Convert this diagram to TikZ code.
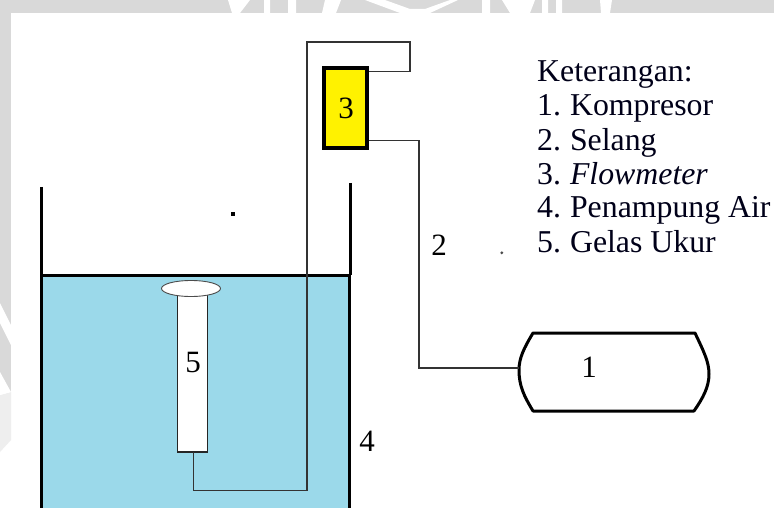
\documentclass[tikz,border=0pt]{standalone}
\usetikzlibrary{shapes.geometric}
\usepackage{fontspec}
\setmainfont{Liberation Serif}
\definecolor{wmgrey}{HTML}{D9D9D9}
\definecolor{water}{HTML}{9BD9EA}
\definecolor{meter}{HTML}{FFF200}
\tikzset{
  thick line/.style={line width=3pt,draw=black},
  pipe/.style={line width=1.1pt,draw=black!80},
  lbl/.style={font=\fontsize{31}{31}\selectfont,inner sep=0pt,text=black},
  legend/.style={font=\fontsize{31.8}{34}\selectfont,anchor=base west,inner sep=0pt,text=black!90!blue}
}
\newcommand{\itemnum}[1]{#1.\hspace{9pt}}
\begin{document}
\begin{tikzpicture}[x=1pt,y=-1pt]
\useasboundingbox (0,0) rectangle (774,508);
\fill[white] (0,0) rectangle (774,508);
% page edge band with watermark traces
\fill[wmgrey] (0,0) rectangle (774,13);
\fill[wmgrey] (0,0) rectangle (11,392);
\fill[wmgrey!45] (0,395) -- (11,392) -- (11,440) -- (0,452) -- cycle;
\fill[white] (0,303) -- (11,325) -- (11,345) -- (0,323) -- cycle;
\fill[white] (0,372) -- (11,392) -- (0,395) -- cycle;
\fill[white] (228,0) -- (250,0) -- (240,13) -- (232,13) -- cycle
  (264,0) rectangle (270,13) (288,0) rectangle (296,13) (325,0) -- (341,0) -- (336,13) -- (322,13) -- cycle
  (365,0) -- (385,0) -- (410,9) -- (425,9) -- (450,0) -- (458,0) -- (430,13) -- (400,13) -- cycle
  (482,0) rectangle (490,13) (502,0) -- (535,0) -- (530,13) -- (510,13) -- cycle
  (542,0) rectangle (548,13) (556,0) rectangle (562,13) (600,0) -- (612,0) -- (610,13) -- (601,13) -- cycle;
% water
\fill[water] (41,275) rectangle (350,508);
% tank
\draw[thick line] (41,187) -- (41,508);
\draw[thick line] (350,183) -- (350,275);
\draw[thick line] (349,275) -- (349,508);
\draw[thick line] (41,275) -- (351,275);
% measuring glass
\node[draw=black!85,line width=1.1pt,fill=white,minimum width=29.5pt,minimum height=162pt,inner sep=0pt] (glass) at (192.5,371) {};
\node[draw=black!70,line width=.9pt,fill=white,ellipse,minimum width=59pt,minimum height=16pt,inner sep=0pt] (mouth) at (191,288.5) {};
\node[lbl] (n5) at (193,363) {5};
% flow meter
\node[draw=black,line width=4pt,fill=meter,minimum width=43pt,minimum height=80pt,inner sep=0pt] (meter) at (345.5,108) {};
\node[lbl] (n3) at (346,108) {3};
% compressor
\coordinate (compL) at (519,368);
\draw[line width=3pt,fill=white,line join=round] (533,333) -- (695,333) .. controls (704,352) and (709,362) .. (709,374) .. controls (709,387) and (703,398) .. (694,411) -- (533,411) .. controls (524,396) and (519,386) .. (519,370) .. controls (519,358) and (524,348) .. (533,333) -- cycle;
\node[lbl] (n1) at (589,367) {1};
% pipes
\draw[pipe] (meter.east |- 0,71.5) -- (410,71.5) -- (410,42) -- (307,42) -- (307,490.5) -- (193.5,490.5) -- (193.5,452);
\draw[pipe] (meter.east |- 0,140.5) -- (419,140.5) -- (419,368) -- (compL);
% labels
\node[lbl] (n2) at (439,245) {2};
\node[lbl] (n4) at (367,441) {4};
\node[legend] (k0) at (537,82) {Keterangan:};
\node[legend] (k1) at (537,116) {\itemnum{1}Kompresor};
\node[legend] (k2) at (537,150) {\itemnum{2}Selang};
\node[legend] (k3) at (537,184) {\itemnum{3}\textit{Flowmeter}};
\node[legend] (k4) at (537,218) {\itemnum{4}Penampung Air};
\node[legend] (k5) at (537,252) {\itemnum{5}Gelas Ukur};
% specks
\fill[black] (231,211.5) rectangle (235,215.5);
\fill[black!70] (501.8,252.8) circle (1.6pt);
\end{tikzpicture}
\end{document}
